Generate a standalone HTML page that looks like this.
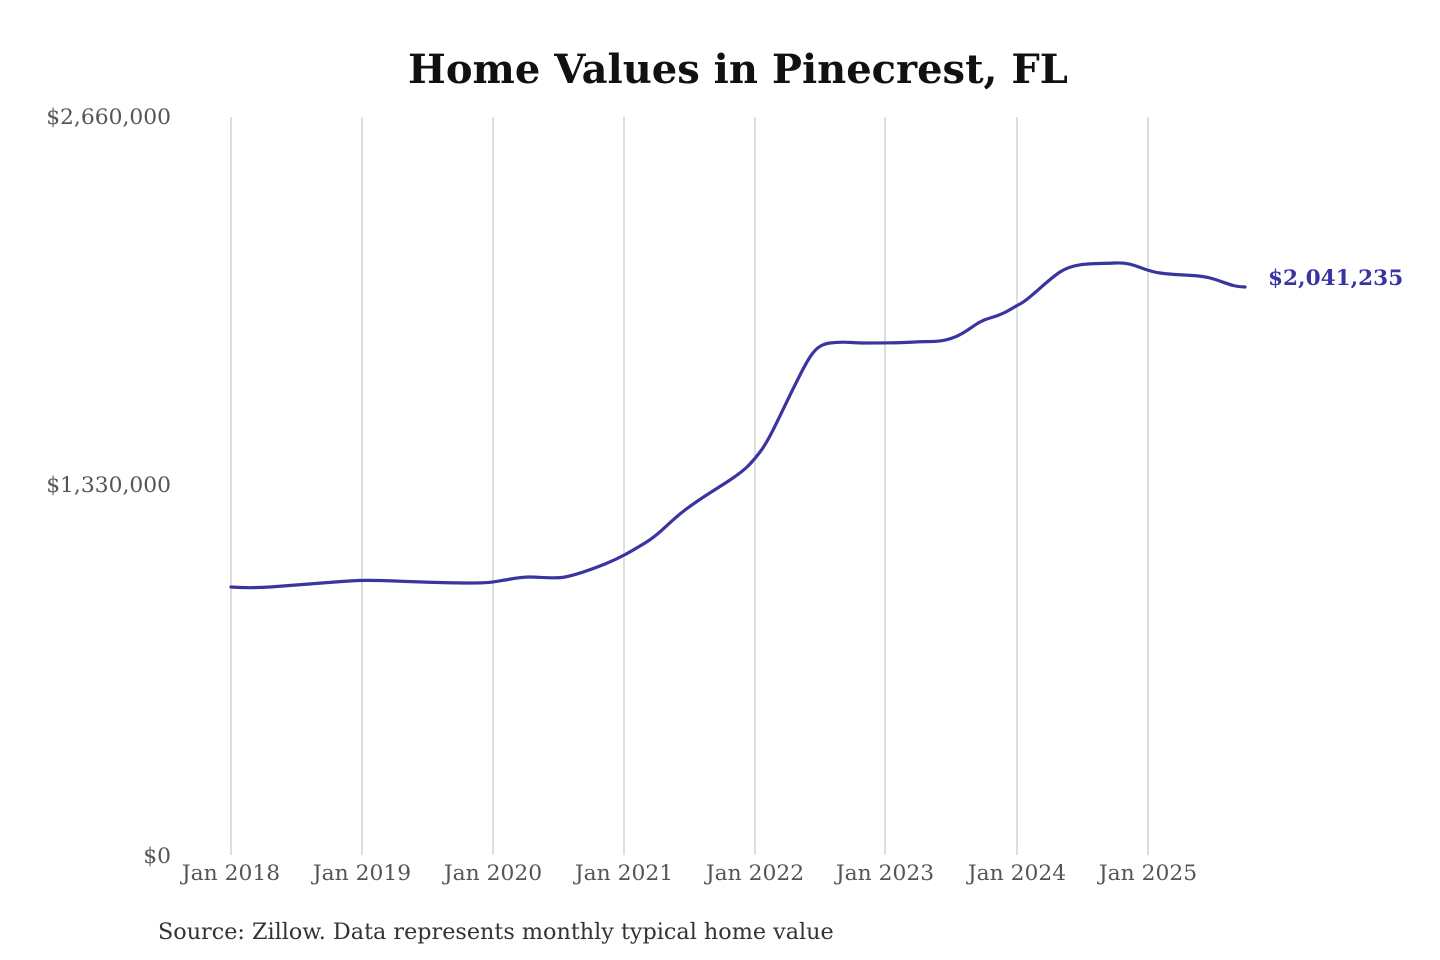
<!DOCTYPE html>
<html><head><meta charset="utf-8"><style>
html,body{margin:0;padding:0;background:#fff;width:1440px;height:960px;overflow:hidden}
</style></head><body>
<svg width="1440" height="960" xmlns="http://www.w3.org/2000/svg" font-family="'DejaVu Serif','Liberation Serif',serif">
<text x="738" y="83" text-anchor="middle" font-size="40" font-weight="bold" fill="#111">Home Values in Pinecrest, FL</text>
<g stroke="#c8c8c8" stroke-width="1.2">
<line x1="231" y1="117" x2="231" y2="855"/><line x1="362" y1="117" x2="362" y2="855"/>
<line x1="493" y1="117" x2="493" y2="855"/><line x1="624" y1="117" x2="624" y2="855"/>
<line x1="755" y1="117" x2="755" y2="855"/><line x1="885" y1="117" x2="885" y2="855"/>
<line x1="1017" y1="117" x2="1017" y2="855"/><line x1="1148" y1="117" x2="1148" y2="855"/>
</g>
<g font-size="21.8" fill="#555" text-anchor="end">
<text x="171" y="124">$2,660,000</text>
<text x="171" y="492">$1,330,000</text>
<text x="171" y="863">$0</text>
</g>
<g font-size="21.8" fill="#555" text-anchor="middle">
<text x="231" y="880">Jan 2018</text><text x="362" y="880">Jan 2019</text>
<text x="493" y="880">Jan 2020</text><text x="624" y="880">Jan 2021</text>
<text x="755" y="880">Jan 2022</text><text x="885" y="880">Jan 2023</text>
<text x="1017" y="880">Jan 2024</text><text x="1148" y="880">Jan 2025</text>
</g>
<text x="158" y="939" font-size="22.3" fill="#333">Source: Zillow. Data represents monthly typical home value</text>
<path fill="none" stroke="#3a34a0" stroke-width="3.2" stroke-linejoin="round" stroke-linecap="round"
d="M231,587 C245,588 255,588 270,587 S310,584 335,582 S370,580 395,581 S450,583 470,583 S493,582 505,580 S520,577 530,577 S555,579 565,577 S590,570 605,564 S630,552 645,543 S668,523 685,510 S715,490 730,480 S750,465 760,452 S780,415 795,385 S815,345 830,343 S850,343 865,343 S900,343 915,342 S940,343 955,337 S975,322 990,318 S1010,309 1020,304 S1045,282 1060,272 S1095,264 1115,263 S1140,270 1160,273 S1195,274 1210,278 S1232,287 1245,287"/>
<text x="1268" y="285" font-size="21.6" font-weight="bold" fill="#3a34a0">$2,041,235</text>
</svg>
</body></html>
